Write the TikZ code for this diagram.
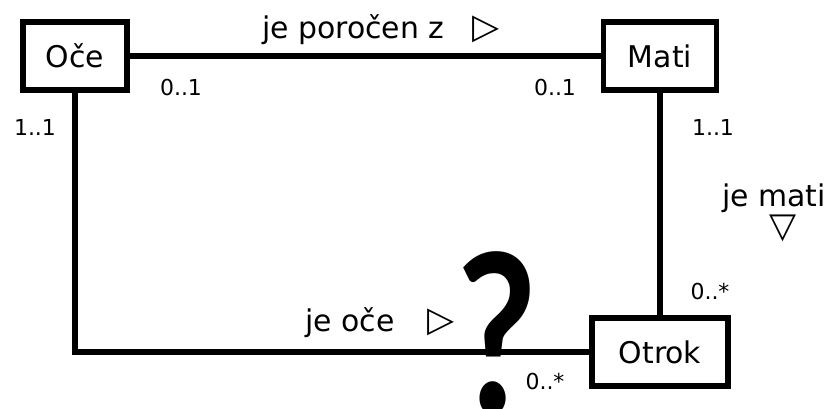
\documentclass[tikz,border=0pt]{standalone}
\usepackage{fontspec}
\setmainfont{DejaVu Sans}
\newfontfamily\vprfont{Lato}
\usepackage{tikz}

\tikzset{
  razred/.style={draw, line width=3.2pt, minimum height=1.36cm, inner sep=0pt, font=\fontsize{17}{20}\selectfont},
  zveza/.style={line width=3.4pt},
  vloga/.style={font=\fontsize{17}{20}\selectfont},
  mnozica/.style={font=\fontsize{12.5}{14}\selectfont}
}

\begin{document}
\begin{tikzpicture}[scale=1]
\useasboundingbox (0,0) rectangle (16.58,8.18);

% ======================
% Classes
% ======================
\node[razred, minimum width=2.08cm] (oce) at (1.5,7.06) {Oče};
\node[razred, minimum width=2.26cm] (mati) at (13.2,7.06) {Mati};
\node[razred, minimum width=2.72cm] (otrok) at (13.2,1.14) {Otrok};

% ======================
% Associations
% ======================
\draw[zveza] (oce) -- (mati);
\draw[zveza] (mati) -- (otrok);
\draw[zveza] (oce.south) |- (otrok.west);

% ======================
% Role names
% ======================
\node[vloga] (porocen) at (7.62,7.58) {je poročen z\hspace{0.95em}\fontsize{20}{20}\selectfont▷};
\node[vloga] (jeoce) at (7.6,1.72) {je oče\hspace{1.1em}\fontsize{20}{20}\selectfont▷};
\node[vloga] (jemati) at (15.48,4.22) {je mati};
\node[vloga] (smer) at (15.66,3.62) {\fontsize{20}{20}\selectfont▽};

% ======================
% Multiplicities
% ======================
\node[mnozica] (m1) at (3.62,6.42) {0..1};
\node[mnozica] (m2) at (11.1,6.42) {0..1};
\node[mnozica] (m3) at (0.7,5.62) {1..1};
\node[mnozica] (m4) at (14.26,5.62) {1..1};
\node[mnozica] (m5) at (14.2,2.34) {0..*};
\node[mnozica] (m6) at (10.9,0.54) {0..*};

% ======================
% Question
% ======================
\node[font=\vprfont\bfseries\fontsize{126}{126}\selectfont, inner sep=0pt, anchor=north, xscale=0.78, transform shape] (vprasanje) at (9.95,3.16) {?};

\end{tikzpicture}
\end{document}
